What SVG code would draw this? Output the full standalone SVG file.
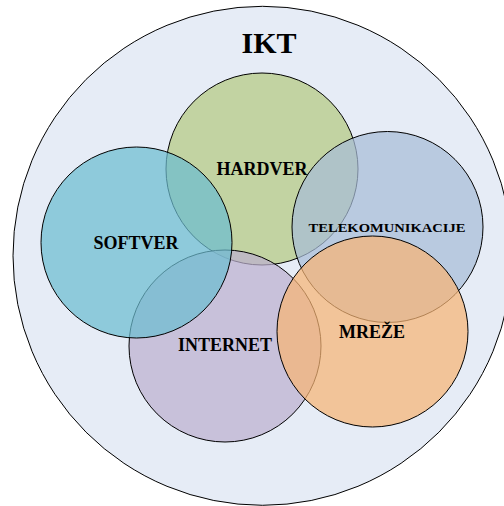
<svg xmlns="http://www.w3.org/2000/svg" width="504" height="506" viewBox="0 0 504 506">
<style>
.c{stroke:#000;stroke-width:1;fill-opacity:0.72}
.t{font-family:"Liberation Serif","Times New Roman",serif;font-weight:bold;fill:#000;text-anchor:middle}
</style>
<rect width="504" height="506" fill="#fff"/>
<g id="ikt">
<circle cx="262.5" cy="255.8" r="249.5" fill="#E6ECF6" stroke="#000" stroke-width="1"/>
<text class="t" x="269" y="53" font-size="30">IKT</text>
</g>
<g id="hardver"><circle class="c" cx="262" cy="169" r="96" fill="#B4C981"/></g>
<g id="internet"><circle class="c" cx="225" cy="346" r="96" fill="#BCB0CF"/></g>
<g id="telekomunikacije"><circle class="c" cx="387.5" cy="227" r="95.5" fill="#A8BDD7"/></g>
<g id="softver"><circle class="c" cx="136.5" cy="242.5" r="95.5" fill="#6CBCD0"/></g>
<g id="mreze"><circle class="c" cx="372.5" cy="331.5" r="95.5" fill="#F6B475"/></g>
<g id="labels">
<text class="t" x="262" y="175" font-size="18">HARDVER</text>
<text class="t" x="136" y="249" font-size="18">SOFTVER</text>
<text class="t" x="387" y="232" font-size="13.5" textLength="157" lengthAdjust="spacingAndGlyphs">TELEKOMUNIKACIJE</text>
<text class="t" x="225" y="351" font-size="18">INTERNET</text>
<text class="t" x="372" y="338" font-size="18">MREŽE</text>
</g>
</svg>
